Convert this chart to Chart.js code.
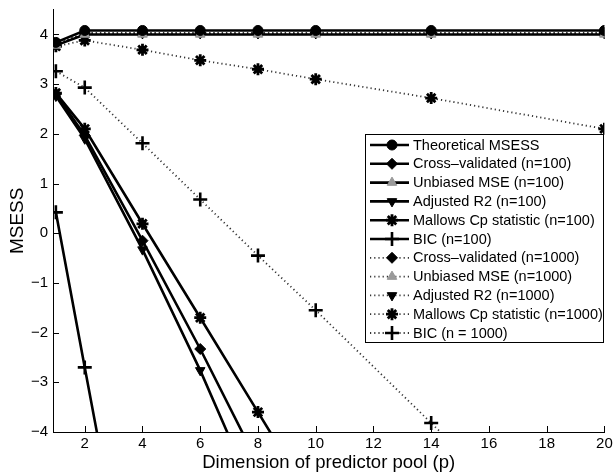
<!DOCTYPE html>
<html>
<head>
<meta charset="utf-8">
<script src="https://cdn.jsdelivr.net/npm/chart.js@4/dist/chart.umd.min.js"></script>
<style>
html,body{margin:0;padding:0;background:#fff;}
#wrap{width:614px;height:474px;}
</style>
</head>
<body>
<div id="wrap"><canvas id="c" width="614" height="474"></canvas></div>
<script>
// ---- data ----
const poolSizes = [1, 2, 4, 6, 8, 10, 14, 20];
const xTickValues = [2, 4, 6, 8, 10, 12, 14, 16, 18, 20];
const yTickValues = [-4, -3, -2, -1, 0, 1, 2, 3, 4];

const theoretical   = [3.84, 4.08, 4.08, 4.08, 4.08, 4.08, 4.08, 4.08];
const cv100         = [2.80, 1.97, -0.15, -2.33, -4.63, -6.9, -11.5, -18.4];
const unbiased100   = [3.78, 4.00, 4.00, 4.00, 4.00, 4.00, 4.00, 4.00];
const adjR2_100     = [2.76, 1.90, -0.33, -2.76, -5.42, -8.0, -13.3, -21.2];
const mallows100    = [2.82, 2.10, 0.19, -1.70, -3.60, -5.5, -9.3, -15.0];
const bic100        = [0.42, -2.70, -8.90, -15.1, -21.3, -27.5, -39.9, -58.5];
const cv1000        = [3.80, 4.03, 4.03, 4.03, 4.03, 4.03, 4.03, 4.03];
const unbiased1000  = [3.80, 4.02, 4.02, 4.02, 4.02, 4.02, 4.02, 4.02];
const adjR2_1000    = [3.80, 4.02, 4.02, 4.02, 4.02, 4.02, 4.02, 4.02];
const mallows1000   = [3.76, 3.88, 3.69, 3.48, 3.30, 3.10, 2.72, 2.10];
const bic1000       = [3.26, 2.93, 1.81, 0.68, -0.45, -1.55, -3.82, -7.20];

const seriesLabels = [
  'Theoretical MSESS',
  'Cross\u2013validated (n=100)',
  'Unbiased MSE (n=100)',
  'Adjusted R2 (n=100)',
  'Mallows Cp statistic (n=100)',
  'BIC (n=100)',
  'Cross\u2013validated (n=1000)',
  'Unbiased MSE (n=1000)',
  'Adjusted R2 (n=1000)',
  'Mallows Cp statistic (n=1000)',
  'BIC (n = 1000)'
];
const seriesValues = [theoretical, cv100, unbiased100, adjR2_100, mallows100, bic100,
                      cv1000, unbiased1000, adjR2_1000, mallows1000, bic1000];

// ---- styles ----
const FONT = "'Liberation Sans', Arial, Helvetica, sans-serif";
const DOT = [1.2, 3];
const styles = [
  {dash: [], lw: 2.6, ps: 'circle', r: 5, bg: '#000', bc: '#000', bw: 1, rot: 0},
  {dash: [], lw: 2.6, ps: 'rectRot', r: 5.5, bg: '#000', bc: '#000', bw: 1, rot: 0},
  {dash: [], lw: 2.6, ps: 'triangle', r: 5.5, bg: '#9a9a9a', bc: '#9a9a9a', bw: 1, rot: 0},
  {dash: [], lw: 2.6, ps: 'triangle', r: 5.5, bg: '#000', bc: '#000', bw: 1, rot: 180},
  {dash: [], lw: 2.6, ps: 'star', r: 6, bg: '#000', bc: '#000', bw: 2.8, rot: 0},
  {dash: [], lw: 2.6, ps: 'cross', r: 7, bg: '#000', bc: '#000', bw: 2.6, rot: 0},
  {dash: DOT, lw: 1.8, ps: 'rectRot', r: 5.5, bg: '#000', bc: '#000', bw: 1, rot: 0},
  {dash: DOT, lw: 1.8, ps: 'triangle', r: 5.5, bg: '#9a9a9a', bc: '#9a9a9a', bw: 1, rot: 0},
  {dash: DOT, lw: 1.8, ps: 'triangle', r: 5.5, bg: '#000', bc: '#000', bw: 1, rot: 180},
  {dash: DOT, lw: 1.8, ps: 'star', r: 6, bg: '#000', bc: '#000', bw: 2.8, rot: 0},
  {dash: DOT, lw: 1.8, ps: 'cross', r: 7, bg: '#000', bc: '#000', bw: 2.6, rot: 0}
];

const datasets = seriesValues.map((vals, i) => {
  const s = styles[i];
  return {
    label: seriesLabels[i],
    data: poolSizes.map((x, j) => ({x: x, y: vals[j]})),
    borderColor: s.dash.length ? '#333' : '#000',
    borderWidth: s.lw,
    borderDash: s.dash,
    pointStyle: s.ps,
    pointRadius: s.r,
    pointRotation: s.rot,
    pointBackgroundColor: s.bg,
    pointBorderColor: s.bc,
    pointBorderWidth: s.bw,
    fill: false,
    tension: 0
  };
});

// inward tick marks drawn at scale positions
const inwardTicks = {
  id: 'inwardTicks',
  afterDraw(chart) {
    const {ctx, chartArea, scales} = chart;
    ctx.save();
    ctx.strokeStyle = '#000';
    ctx.lineWidth = 1;
    ctx.beginPath();
    xTickValues.forEach(v => {
      const px = Math.round(scales.x.getPixelForValue(v)) + 0.5;
      ctx.moveTo(px, chartArea.bottom);
      ctx.lineTo(px, chartArea.bottom - 6);
    });
    yTickValues.forEach(v => {
      const py = Math.round(scales.y.getPixelForValue(v)) + 0.5;
      ctx.moveTo(chartArea.left, py);
      ctx.lineTo(chartArea.left + 6, py);
    });
    ctx.stroke();
    ctx.restore();
  }
};

// boxed legend inside plot
const boxLegend = {
  id: 'boxLegend',
  afterDraw(chart) {
    const {ctx} = chart;
    const left = 365, top = 134, right = 603, rowH = 18.8;
    const n = chart.data.datasets.length;
    const bottom = top + 11 + rowH * (n - 1) + 9;
    ctx.save();
    ctx.fillStyle = '#fff';
    ctx.fillRect(left, top, right - left, bottom - top);
    ctx.strokeStyle = '#000';
    ctx.lineWidth = 1;
    ctx.strokeRect(left + 0.5, top + 0.5, right - left, bottom - top);
    ctx.font = '14.5px ' + FONT;
    ctx.textBaseline = 'middle';
    chart.data.datasets.forEach((ds, i) => {
      const y = top + 11 + rowH * i;
      ctx.save();
      ctx.strokeStyle = ds.borderColor;
      ctx.lineWidth = ds.borderWidth;
      ctx.setLineDash(ds.borderDash || []);
      ctx.beginPath();
      ctx.moveTo(370, y);
      ctx.lineTo(409, y);
      ctx.stroke();
      ctx.restore();
      ctx.save();
      ctx.fillStyle = ds.pointBackgroundColor;
      ctx.strokeStyle = ds.pointBorderColor;
      ctx.lineWidth = ds.pointBorderWidth;
      Chart.helpers.drawPoint(ctx, {
        pointStyle: ds.pointStyle, rotation: ds.pointRotation,
        radius: ds.pointRadius, borderWidth: ds.pointBorderWidth
      }, 392, y);
      ctx.restore();
      ctx.fillStyle = '#000';
      ctx.fillText(ds.label, 413, y + 0.5);
    });
    ctx.restore();
  }
};

const minusFmt = v => (v < 0 ? '\u2212' + Math.abs(v) : String(v));

new Chart(document.getElementById('c'), {
  type: 'line',
  data: {datasets: datasets},
  options: {
    responsive: false,
    animation: false,
    devicePixelRatio: 1,
    layout: {padding: {top: 7, right: 8, left: 0, bottom: 0}},
    plugins: {legend: {display: false}, tooltip: {enabled: false}},
    scales: {
      x: {
        type: 'linear',
        min: 0.9, max: 20,
        afterBuildTicks: s => { s.ticks = xTickValues.map(v => ({value: v})); },
        afterFit: s => { s.height = 42; s.paddingLeft = 0; s.paddingRight = 0; },
        grid: {display: false, drawTicks: false, tickLength: 0},
        border: {display: true, color: '#000', width: 1},
        ticks: {color: '#000', padding: 3, font: {family: FONT, size: 15}, maxRotation: 0, autoSkip: false, callback: minusFmt},
        title: {display: true, text: 'Dimension of predictor pool (p)', color: '#000',
                font: {family: FONT, size: 18.5}, padding: {top: 0, bottom: 0}}
      },
      y: {
        type: 'linear',
        min: -4, max: 4.5,
        afterBuildTicks: s => { s.ticks = yTickValues.map(v => ({value: v})); },
        afterFit: s => { s.width = 53; s.paddingTop = 0; s.paddingBottom = 0; },
        grid: {display: false, drawTicks: false, tickLength: 0},
        border: {display: true, color: '#000', width: 1},
        ticks: {color: '#000', padding: 5, font: {family: FONT, size: 15}, autoSkip: false, callback: minusFmt},
        title: {display: true, text: 'MSESS', color: '#000',
                font: {family: FONT, size: 19}, padding: {top: 6, bottom: 0}}
      }
    }
  },
  plugins: [inwardTicks, boxLegend]
});
</script>
</body>
</html>
